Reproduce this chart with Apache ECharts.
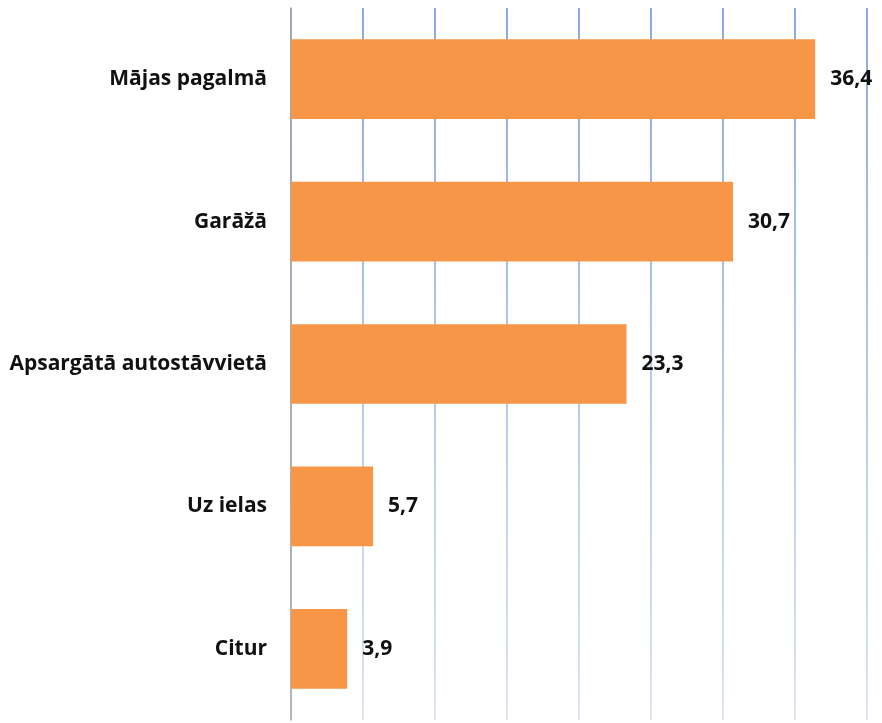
<!DOCTYPE html>
<html>
<head>
<meta charset="utf-8">
<script src="https://cdn.jsdelivr.net/npm/echarts@6/dist/echarts.min.js"></script>
<style>
html,body{margin:0;padding:0;background:#fff;}
#chart{width:882px;height:723px;}
</style>
</head>
<body>
<div id="chart"></div>
<script>
const categories = ['Mājas pagalmā', 'Garāžā', 'Apsargātā autostāvvietā', 'Uz ielas', 'Citur'];
const values = [36.4, 30.7, 23.3, 5.7, 3.9];

const chart = echarts.init(document.getElementById('chart'));
const font = '"Open Sans", Lato, sans-serif';
chart.setOption({
  animation: false,
  grid: { left: 291, right: 15, top: 8, bottom: 3, containLabel: false },
  xAxis: {
    type: 'value', min: 0, max: 40, interval: 5,
    axisLabel: { show: false },
    axisLine: { show: false },
    axisTick: { show: false },
    splitLine: {
      show: true,
      lineStyle: {
        width: 2,
        color: { type: 'linear', x: 0, y: 0, x2: 0, y2: 1,
          colorStops: [{ offset: 0, color: '#8eaadb' }, { offset: 1, color: '#dde5f4' }] }
      }
    }
  },
  yAxis: {
    type: 'category', data: categories, inverse: true,
    axisLine: { show: true, lineStyle: { color: '#a6a6a6', width: 1.5 } },
    axisTick: { show: false },
    axisLabel: { margin: 24, color: '#111', fontSize: 21, fontWeight: 'bold', fontFamily: font },
    splitLine: { show: false }
  },
  series: [{
    type: 'bar', data: values, barWidth: '56%',
    itemStyle: { color: '#f79646' },
    label: {
      show: true, position: 'right', distance: 15,
      color: '#111', fontSize: 21, fontWeight: 'bold', fontFamily: font,
      formatter: p => String(p.value).replace('.', ',')
    }
  }]
});
</script>
</body>
</html>
